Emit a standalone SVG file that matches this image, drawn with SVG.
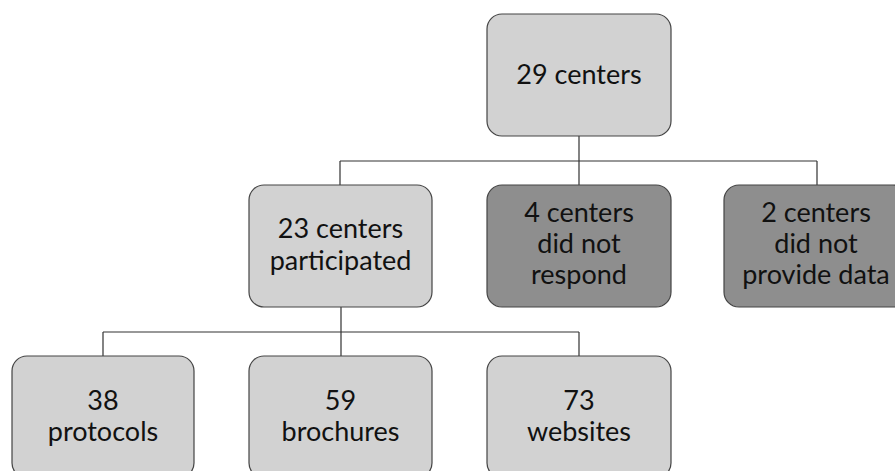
<svg xmlns="http://www.w3.org/2000/svg" width="895" height="471" viewBox="0 0 895 471">
<style>
.box{stroke:#444;stroke-width:1.2}
.light{fill:#d2d2d2}
.dark{fill:#8e8e8e}
.t{font-family:Lato,"Liberation Sans",sans-serif;font-size:27px;fill:#111;text-anchor:middle}
.c{fill:none;stroke:#333;stroke-width:1.2}
</style>
<rect width="895" height="471" fill="#fff"/>
<g id="connectors">
<path class="c" d="M579 136V161M340 161H817M340 161V185M579 161V185M817 161V185"/>
<path class="c" d="M341 307V332M103 332H579M103 332V356M341 332V356M579 332V356"/>
</g>
<g id="n29">
<rect class="box light" x="487" y="14" width="184" height="122" rx="15"/>
<text class="t" x="579" y="84">29 centers</text>
</g>
<g id="n23">
<rect class="box light" x="249" y="185" width="183" height="122" rx="15"/>
<text class="t" x="340.5" y="238">23 centers</text>
<text class="t" x="340.5" y="270">participated</text>
</g>
<g id="n4">
<rect class="box dark" x="487" y="185" width="184" height="122" rx="15"/>
<text class="t" x="579" y="222">4 centers</text>
<text class="t" x="579" y="253">did not</text>
<text class="t" x="579" y="284">respond</text>
</g>
<g id="n2">
<rect class="box dark" x="724" y="185" width="184" height="122" rx="15"/>
<text class="t" x="816" y="222">2 centers</text>
<text class="t" x="816" y="253">did not</text>
<text class="t" x="816" y="284">provide data</text>
</g>
<g id="n38">
<rect class="box light" x="12" y="356" width="182" height="122" rx="15"/>
<text class="t" x="103" y="410">38</text>
<text class="t" x="103" y="441">protocols</text>
</g>
<g id="n59">
<rect class="box light" x="249" y="356" width="183" height="122" rx="15"/>
<text class="t" x="340.5" y="410">59</text>
<text class="t" x="340.5" y="441">brochures</text>
</g>
<g id="n73">
<rect class="box light" x="487" y="356" width="184" height="122" rx="15"/>
<text class="t" x="579" y="410">73</text>
<text class="t" x="579" y="441">websites</text>
</g>
</svg>
